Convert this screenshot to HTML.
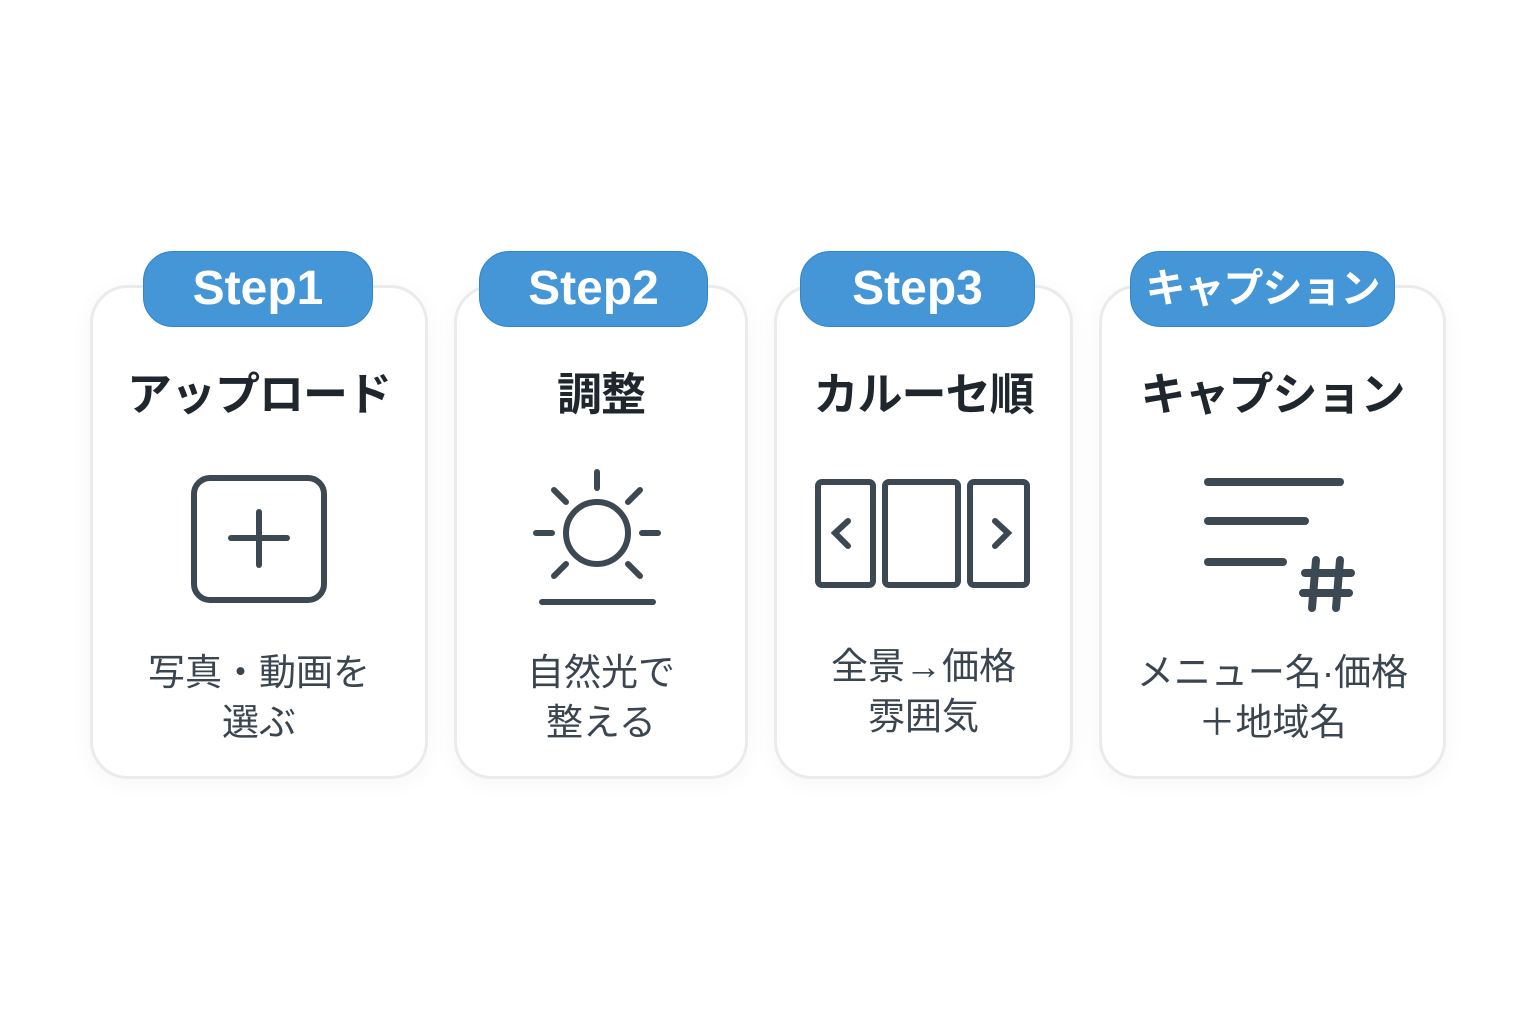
<!DOCTYPE html>
<html><head><meta charset="utf-8"><style>
body{margin:0;width:1536px;height:1024px;background:#fff;position:relative;overflow:hidden;font-family:"Liberation Sans","Noto Sans CJK JP",sans-serif}
.card{position:absolute;top:285px;height:494px;border:3px solid #ebebeb;border-radius:38px;background:#fff;box-sizing:border-box;box-shadow:0 4px 24px rgba(0,0,0,0.04)}
.pill{position:absolute;top:251px;height:76px;background:#4496d6;border:1px solid #2f86cc;border-radius:30px;box-sizing:border-box;color:#fff;font-weight:bold;font-size:48px;text-align:center;line-height:74px;white-space:nowrap}
.t{position:absolute;top:365px;font-size:45px;font-weight:bold;color:#1f262d;text-align:center;line-height:60px;white-space:nowrap;letter-spacing:-1px}
.d{position:absolute;top:648px;font-size:37px;color:#3a4550;text-align:center;line-height:50px;white-space:nowrap}
svg{position:absolute;left:0;top:0}
</style></head><body>
<div class="card" style="left:90px;width:338px"></div>
<div class="card" style="left:454px;width:294px"></div>
<div class="card" style="left:774px;width:299px"></div>
<div class="card" style="left:1099px;width:347px"></div>
<div class="pill" style="left:143px;width:230px">Step1</div>
<div class="pill" style="left:479px;width:229px">Step2</div>
<div class="pill" style="left:800px;width:235px">Step3</div>
<div class="pill" style="left:1130px;width:265px;font-size:40px;letter-spacing:-1px">キャプション</div>
<div class="t" style="left:90px;width:338px">アップロード</div>
<div class="t" style="left:454px;width:294px">調整</div>
<div class="t" style="left:774px;width:299px">カルーセ順</div>
<div class="t" style="left:1099px;width:347px">キャプション</div>
<div class="d" style="left:90px;width:338px">写真・動画を<br>選ぶ</div>
<div class="d" style="left:454px;width:294px">自然光で<br>整える</div>
<div class="d" style="left:774px;width:299px;top:642px">全景→価格<br>雰囲気</div>
<div class="d" style="left:1099px;width:347px">メニュー名·価格<br>＋地域名</div>
<svg width="1536" height="1024" fill="none" stroke="#3c4852" stroke-linecap="round" stroke-width="6">
<rect x="194" y="478" width="130" height="122" rx="16"/>
<line x1="259" y1="512" x2="259" y2="565"/><line x1="231" y1="538" x2="287" y2="538"/>
<circle cx="597" cy="533" r="31"/>
<line x1="597" y1="472" x2="597" y2="488"/>
<line x1="536" y1="533" x2="552" y2="533"/><line x1="642" y1="533" x2="658" y2="533"/>
<line x1="554" y1="490" x2="566" y2="502"/><line x1="640" y1="490" x2="628" y2="502"/>
<line x1="554" y1="576" x2="566" y2="564"/><line x1="640" y1="576" x2="628" y2="564"/>
<line x1="542" y1="602" x2="653" y2="602"/>
<rect x="818" y="482" width="55" height="103" rx="4"/>
<rect x="885" y="482" width="73" height="103" rx="4"/>
<rect x="970" y="482" width="57" height="103" rx="4"/>
<polyline points="848,521 835,533 848,546"/><polyline points="995,521 1008,533 995,546"/>
<line x1="1208" y1="482" x2="1340" y2="482" stroke-width="8"/>
<line x1="1208" y1="521" x2="1305" y2="521" stroke-width="8"/>
<line x1="1208" y1="562" x2="1283" y2="562" stroke-width="8"/>
<g stroke-width="8"><line x1="1316" y1="560" x2="1312" y2="608"/><line x1="1340" y1="560" x2="1336" y2="608"/>
<line x1="1305" y1="573" x2="1351" y2="573"/><line x1="1303" y1="593" x2="1349" y2="593"/></g>
</svg>
</body></html>
